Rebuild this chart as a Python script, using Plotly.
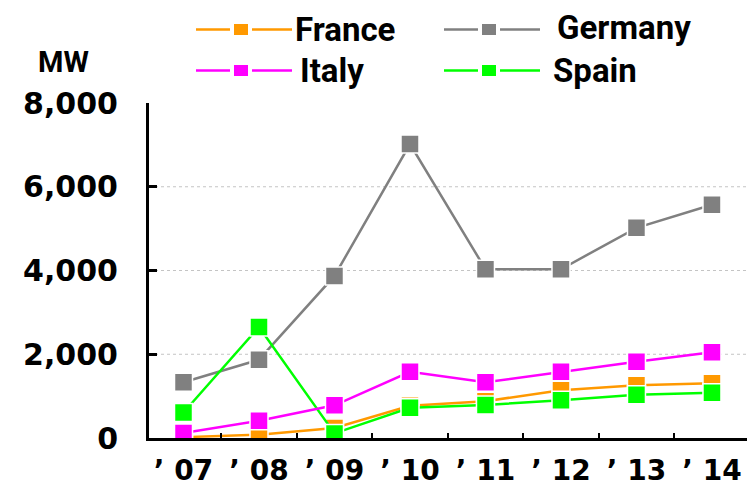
import plotly.graph_objects as go

# Annual values, MW
years = ["07", "08", "09", "10", "11", "12", "13", "14"]
year_labels = ["\u2019 " + y for y in years]

france = [20, 80, 240, 770, 880, 1140, 1260, 1310]
germany = [1330, 1870, 3870, 7020, 4030, 4030, 5020, 5570]
italy = [120, 410, 780, 1580, 1330, 1580, 1820, 2050]
spain = [610, 2650, 110, 720, 790, 900, 1030, 1080]

y_ticks = [0, 2000, 4000, 6000, 8000]
y_tick_text = ["0", "2,000", "4,000", "6,000", "8,000"]
grid_vals = [2000, 4000, 6000]

series_names = ["France", "Germany", "Italy", "Spain"]
series_values = [france, germany, italy, spain]
series_colors = ["#FF9900", "#808080", "#FF00FF", "#00FF00"]
draw_order = ["Germany", "France", "Spain", "Italy"]

W, H = 747, 489
L, R, T, B = 149, 0, 103, 51
PW, PH = W - L - R, H - T - B

def px_x(px):
    return (px - L) / PW

def px_y(py):
    return (H - B - py) / PH

TICK_FONT = "DejaVu Sans, Verdana, sans-serif"
NARROW_FONT = "Roboto, Liberation Sans, Arial, sans-serif"

fig = go.Figure()
for name in draw_order:
    i = series_names.index(name)
    fig.add_trace(go.Scatter(
        x=years, y=series_values[i], name=name, mode="lines+markers",
        line=dict(color=series_colors[i], width=2.5),
        marker=dict(symbol="square", size=18, color=series_colors[i],
                    line=dict(color="white", width=1.5)),
        showlegend=False,
    ))

shapes = []
annotations = []

# dotted horizontal grid
for v in grid_vals:
    shapes.append(dict(type="line", xref="paper", yref="y", x0=0, x1=1, y0=v, y1=v,
                       line=dict(color="#c4c4c4", width=1, dash="dot"), layer="below"))

# legend: line - square - line, then the series name
legend_cols = {"France": (196, 293, 29.5), "Germany": (444, 555, 27.0),
               "Italy": (196, 298, 70.5), "Spain": (444, 551, 70.5)}
for name, color in zip(series_names, series_colors):
    lx, tx, ly = legend_cols[name]
    sym_y = ly if name != "Germany" else 29.5
    seg1 = (lx, lx + 34)
    sq = (lx + 38, lx + 52)
    seg2 = (lx + 56, lx + 96)
    for a, b in (seg1, seg2):
        shapes.append(dict(type="line", xref="paper", yref="paper",
                           x0=px_x(a), x1=px_x(b), y0=px_y(sym_y), y1=px_y(sym_y),
                           line=dict(color=color, width=2.5)))
    shapes.append(dict(type="rect", xref="paper", yref="paper",
                       x0=px_x(sq[0]), x1=px_x(sq[1]),
                       y0=px_y(sym_y - 5.5), y1=px_y(sym_y + 5.5),
                       fillcolor=color, line=dict(width=0)))
    annotations.append(dict(text="<b>%s</b>" % name, xref="paper", yref="paper",
                            x=px_x(tx), y=px_y(ly), xanchor="left", yanchor="middle",
                            showarrow=False,
                            font=dict(family=NARROW_FONT, size=33, color="black")))

# unit label
annotations.append(dict(text="<b>MW</b>", xref="paper", yref="paper",
                        x=px_x(36), y=px_y(61.5), xanchor="left", yanchor="middle",
                        showarrow=False,
                        font=dict(family=NARROW_FONT, size=29, color="black")))

fig.update_layout(
    width=W, height=H,
    margin=dict(l=L, r=R, t=T, b=B, pad=0),
    paper_bgcolor="white", plot_bgcolor="white",
    shapes=shapes, annotations=annotations,
    showlegend=False,
    xaxis=dict(
        type="category", categoryorder="array", categoryarray=years,
        range=[-0.457, 7.464], automargin=False,
        tickmode="array", tickvals=years, ticktext=year_labels,
        tickson="boundaries", ticks="inside", ticklen=5, tickwidth=2, tickcolor="black",
        showline=True, linecolor="black", linewidth=3,
        showgrid=False, zeroline=False,
        tickfont=dict(family=TICK_FONT, size=28, color="black", weight="bold"),
        ticklabelstandoff=5,
    ),
    yaxis=dict(
        range=[0, 8000], automargin=False,
        tickmode="array", tickvals=y_ticks, ticktext=y_tick_text,
        ticks="inside", ticklen=8, tickwidth=3, tickcolor="black",
        showline=True, linecolor="black", linewidth=3,
        showgrid=False, zeroline=False,
        tickfont=dict(family=TICK_FONT, size=30, color="black", weight="bold"),
        ticklabelstandoff=22,
    ),
)

fig.write_html("out.html")
